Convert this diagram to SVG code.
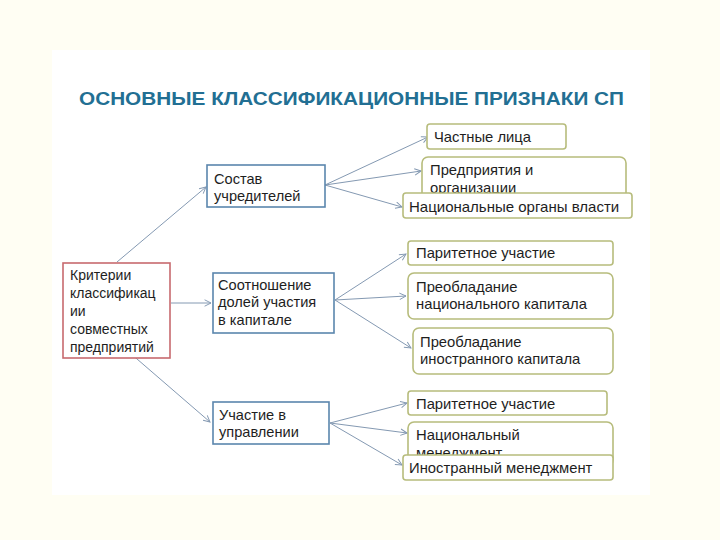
<svg xmlns="http://www.w3.org/2000/svg" width="720" height="540" viewBox="0 0 720 540">
<defs>
<style>
.t{font-family:"Liberation Sans",Arial,sans-serif;font-size:14px;fill:#1e1e1e}
.tb{font-family:"Liberation Sans",Arial,sans-serif;font-size:14.6px;fill:#1e1e1e}
.tr{font-family:"Liberation Sans",Arial,sans-serif;font-size:14.8px;fill:#1e1e1e}
.title{font-family:"Liberation Sans",Arial,sans-serif;font-size:19px;font-weight:bold;fill:#226f93}
.blue{fill:#ffffff;stroke:#5b86ad;stroke-width:1.6}
.red{fill:#ffffff;stroke:#c76a6e;stroke-width:1.6}
.olive{fill:#ffffff;stroke:#b7bc7c;stroke-width:1.6}
.c{fill:none;stroke:#8499b2;stroke-width:1;marker-end:url(#a)}
</style>
<marker id="a" viewBox="0 0 10 10" refX="9" refY="5" markerWidth="8" markerHeight="8" markerUnits="userSpaceOnUse" orient="auto">
<path d="M1,1 L9,5 L1,9" fill="none" stroke="#8499b2" stroke-width="1.2"/>
</marker>
</defs>
<rect width="720" height="540" fill="#fffef3"/>
<rect x="52" y="50" width="598" height="445" fill="#ffffff"/>
<text class="title" x="79" y="105" textLength="545" lengthAdjust="spacingAndGlyphs">ОСНОВНЫЕ КЛАССИФИКАЦИОННЫЕ ПРИЗНАКИ СП</text>
<g id="connectors">
<line class="c" x1="117" y1="262" x2="206" y2="187"/>
<line class="c" x1="171" y1="303" x2="211" y2="303"/>
<line class="c" x1="115" y1="340" x2="210" y2="422"/>
<line class="c" x1="325" y1="185" x2="428" y2="137"/>
<line class="c" x1="325" y1="185" x2="421" y2="171"/>
<line class="c" x1="325" y1="185" x2="402" y2="207"/>
<line class="c" x1="335" y1="300" x2="406" y2="254"/>
<line class="c" x1="335" y1="300" x2="406" y2="296"/>
<line class="c" x1="335" y1="300" x2="411" y2="348"/>
<line class="c" x1="330" y1="423" x2="407" y2="403"/>
<line class="c" x1="330" y1="423" x2="407" y2="433"/>
<line class="c" x1="330" y1="423" x2="402" y2="465"/>
</g>
<g id="criteria">
<rect class="red" x="63" y="263" width="107" height="95"/>
<text class="t" x="70" y="280">Критерии</text>
<text class="t" x="70" y="298">классификац</text>
<text class="t" x="70" y="316">ии</text>
<text class="t" x="70" y="334">совместных</text>
<text class="t" x="70" y="352">предприятий</text>
</g>
<g id="sostav">
<rect class="blue" x="207" y="165" width="118" height="42"/>
<text class="tb" x="214" y="184">Состав</text>
<text class="tb" x="214" y="201">учредителей</text>
</g>
<g id="sootnoshenie">
<rect class="blue" x="213" y="273" width="121" height="60"/>
<text class="tb" x="218" y="290">Соотношение</text>
<text class="tb" x="218" y="307">долей участия</text>
<text class="tb" x="218" y="325">в капитале</text>
</g>
<g id="uchastie">
<rect class="blue" x="213" y="402" width="116" height="42"/>
<text class="tb" x="219" y="420">Участие в</text>
<text class="tb" x="219" y="437">управлении</text>
</g>
<g id="chastnye">
<rect class="olive" x="427" y="124" width="139" height="25" rx="3"/>
<text class="tr" x="434" y="142">Частные лица</text>
</g>
<g id="predpriyatiya">
<rect class="olive" x="422" y="157" width="204" height="50" rx="6"/>
<text class="tr" x="430" y="175">Предприятия и</text>
<text class="tr" x="430" y="193">организации</text>
</g>
<g id="nacorgany">
<rect class="olive" x="403" y="193" width="229" height="25" rx="3"/>
<text class="t" x="409" y="212" style="font-size:15px">Национальные органы власти</text>
</g>
<g id="paritet1">
<rect class="olive" x="408" y="241" width="205" height="24" rx="3"/>
<text class="tr" x="416" y="258">Паритетное участие</text>
</g>
<g id="prenac">
<rect class="olive" x="408" y="273" width="205" height="46" rx="6"/>
<text class="tr" x="416" y="292">Преобладание</text>
<text class="tr" x="416" y="309">национального капитала</text>
</g>
<g id="preinostr">
<rect class="olive" x="413" y="328" width="200" height="46" rx="6"/>
<text class="tr" x="420" y="347">Преобладание</text>
<text class="tr" x="420" y="364">иностранного капитала</text>
</g>
<g id="paritet2">
<rect class="olive" x="408" y="391" width="199" height="24" rx="3"/>
<text class="tr" x="416" y="409">Паритетное участие</text>
</g>
<g id="nacmen">
<rect class="olive" x="408" y="422" width="205" height="44" rx="6"/>
<text class="tr" x="416" y="440">Национальный</text>
<text class="tr" x="416" y="458">менеджмент</text>
</g>
<g id="inostrmen">
<rect class="olive" x="403" y="455" width="210" height="25" rx="3"/>
<text class="tr" x="409" y="473">Иностранный менеджмент</text>
</g>
</svg>
